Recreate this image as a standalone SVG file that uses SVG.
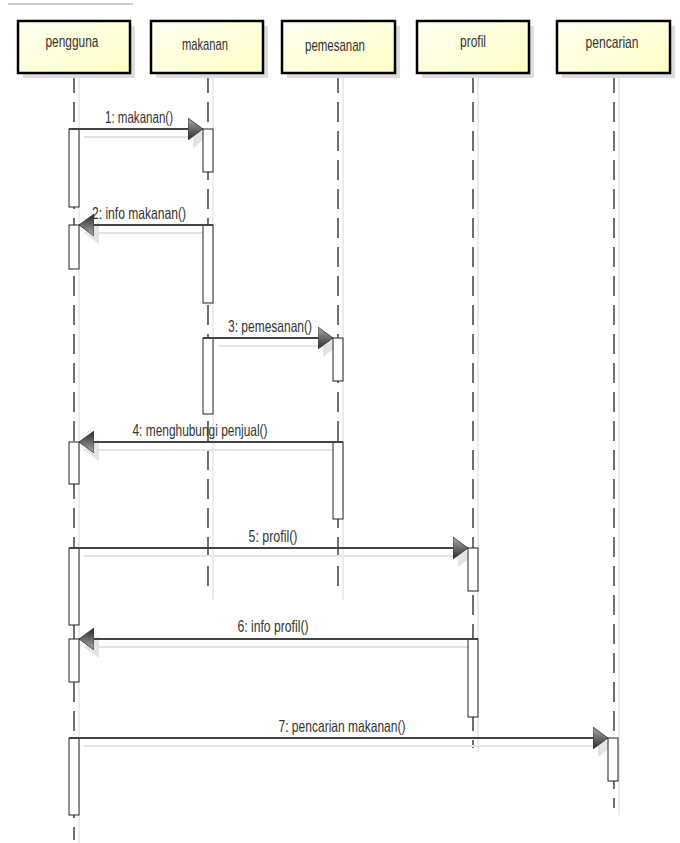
<svg xmlns="http://www.w3.org/2000/svg" width="680" height="843" viewBox="0 0 680 843">
<defs>
<linearGradient id="boxFill" x1="0" y1="0" x2="1" y2="1">
<stop offset="0" stop-color="#FFFFF4"/>
<stop offset="1" stop-color="#FFFFC4"/>
</linearGradient>
<linearGradient id="headFill" x1="0" y1="0" x2="0" y2="1">
<stop offset="0" stop-color="#AAAAAA"/>
<stop offset="1" stop-color="#2A2A2A"/>
</linearGradient>
<marker id="arrow" viewBox="0 0 15 22" refX="15" refY="11" markerWidth="15" markerHeight="22" markerUnits="userSpaceOnUse" orient="auto">
<path d="M0,0 L15,11 L0,22 Z" fill="url(#headFill)" stroke="#333" stroke-width="0.8"/>
</marker>
<marker id="arrowShadow" viewBox="0 0 15 22" refX="15" refY="11" markerWidth="15" markerHeight="22" markerUnits="userSpaceOnUse" orient="auto">
<path d="M0,0 L15,11 L0,22 Z" fill="#E4E4E4"/>
</marker>
<style>
.shadow{fill:#DDDDDD}
.box{fill:url(#boxFill);stroke:#000;stroke-width:2.5}
.name{font-family:"Liberation Sans",Arial,sans-serif;font-size:17px;fill:#333;text-anchor:middle}
.life{stroke:#111;stroke-width:1.2;stroke-dasharray:20 9;fill:none}
.lifeS{stroke:#E6E6E6;stroke-width:1.5;fill:none}
.act{fill:#FFF;stroke:#222;stroke-width:1}
.msg{stroke:#444;stroke-width:1.8;fill:none;marker-end:url(#arrow)}
.msgS{stroke:#E4E4E4;stroke-width:2;fill:none;marker-end:url(#arrowShadow)}
.lbl{font-family:"Liberation Sans",Arial,sans-serif;font-size:16.5px;fill:#333;text-anchor:middle}
</style>
</defs>
<rect width="680" height="843" fill="#FFFFFF"/>
<line x1="8" y1="4" x2="133" y2="4" stroke="#999" stroke-width="1"/>

<g id="lifelines">
<line class="lifeS" x1="79" y1="73" x2="79" y2="843"/>
<line class="lifeS" x1="213" y1="73" x2="213" y2="600"/>
<line class="lifeS" x1="343" y1="73" x2="343" y2="600"/>
<line class="lifeS" x1="478" y1="73" x2="478" y2="752"/>
<line class="lifeS" x1="619" y1="73" x2="619" y2="815"/>
<line class="life" x1="74" y1="73" x2="74" y2="840"/>
<line class="life" x1="208" y1="73" x2="208" y2="595"/>
<line class="life" x1="338" y1="73" x2="338" y2="595"/>
<line class="life" x1="473" y1="73" x2="473" y2="748"/>
<line class="life" x1="614" y1="73" x2="614" y2="808"/>
</g>

<g id="pengguna">
<rect class="shadow" x="23" y="26" width="112" height="52"/>
<rect class="box" x="18" y="21" width="112" height="52"/>
<text class="name" x="72" y="47" textLength="53" lengthAdjust="spacingAndGlyphs">pengguna</text>
</g>
<g id="makanan">
<rect class="shadow" x="156" y="26" width="112" height="52"/>
<rect class="box" x="151" y="21" width="112" height="52"/>
<text class="name" x="205" y="50" textLength="46" lengthAdjust="spacingAndGlyphs">makanan</text>
</g>
<g id="pemesanan">
<rect class="shadow" x="287" y="26" width="113" height="52"/>
<rect class="box" x="282" y="21" width="113" height="52"/>
<text class="name" x="335" y="51" textLength="60" lengthAdjust="spacingAndGlyphs">pemesanan</text>
</g>
<g id="profil">
<rect class="shadow" x="422" y="26" width="112" height="52"/>
<rect class="box" x="417" y="21" width="112" height="52"/>
<text class="name" x="473" y="47" textLength="26" lengthAdjust="spacingAndGlyphs">profil</text>
</g>
<g id="pencarian">
<rect class="shadow" x="562" y="26" width="113" height="52"/>
<rect class="box" x="557" y="21" width="113" height="52"/>
<text class="name" x="612" y="48" textLength="53" lengthAdjust="spacingAndGlyphs">pencarian</text>
</g>

<g id="connectors">
<g id="shadows">
<line class="msgS" x1="84" y1="137" x2="208" y2="137"/>
<line class="msgS" x1="208" y1="233" x2="84" y2="233"/>
<line class="msgS" x1="218" y1="346" x2="338" y2="346"/>
<line class="msgS" x1="338" y1="450" x2="84" y2="450"/>
<line class="msgS" x1="84" y1="556" x2="473" y2="556"/>
<line class="msgS" x1="473" y1="647" x2="84" y2="647"/>
<line class="msgS" x1="84" y1="746" x2="613" y2="746"/>
</g>
<g id="activations">
<rect class="act" x="69" y="129" width="10" height="78"/>
<rect class="act" x="69" y="225" width="10" height="44"/>
<rect class="act" x="69" y="442" width="10" height="42"/>
<rect class="act" x="69" y="548" width="10" height="77"/>
<rect class="act" x="69" y="639" width="10" height="43"/>
<rect class="act" x="69" y="738" width="10" height="77"/>
<rect class="act" x="203" y="129" width="10" height="43"/>
<rect class="act" x="203" y="225" width="10" height="78"/>
<rect class="act" x="203" y="338" width="10" height="76"/>
<rect class="act" x="333" y="338" width="10" height="43"/>
<rect class="act" x="333" y="442" width="10" height="77"/>
<rect class="act" x="468" y="548" width="10" height="43"/>
<rect class="act" x="468" y="639" width="10" height="78"/>
<rect class="act" x="608" y="738" width="10" height="43"/>
</g>
<line id="m1" class="msg" x1="69" y1="129" x2="203" y2="129"/>
<line id="m2" class="msg" x1="213" y1="225" x2="79" y2="225"/>
<line id="m3" class="msg" x1="203" y1="338" x2="333" y2="338"/>
<line id="m4" class="msg" x1="343" y1="442" x2="79" y2="442"/>
<line id="m5" class="msg" x1="69" y1="548" x2="468" y2="548"/>
<line id="m6" class="msg" x1="478" y1="639" x2="79" y2="639"/>
<line id="m7" class="msg" x1="69" y1="738" x2="608" y2="738"/>
<text class="lbl" x="139" y="123" textLength="68" lengthAdjust="spacingAndGlyphs">1: makanan()</text>
<text class="lbl" x="139" y="219" textLength="94" lengthAdjust="spacingAndGlyphs">2: info makanan()</text>
<text class="lbl" x="270" y="332" textLength="84" lengthAdjust="spacingAndGlyphs">3: pemesanan()</text>
<text class="lbl" x="200" y="436" textLength="135" lengthAdjust="spacingAndGlyphs">4: menghubungi penjual()</text>
<text class="lbl" x="273" y="542" textLength="49" lengthAdjust="spacingAndGlyphs">5: profil()</text>
<text class="lbl" x="273" y="632" textLength="71" lengthAdjust="spacingAndGlyphs">6: info profil()</text>
<text class="lbl" x="342" y="732" textLength="127" lengthAdjust="spacingAndGlyphs">7: pencarian makanan()</text>
</g>
</svg>
